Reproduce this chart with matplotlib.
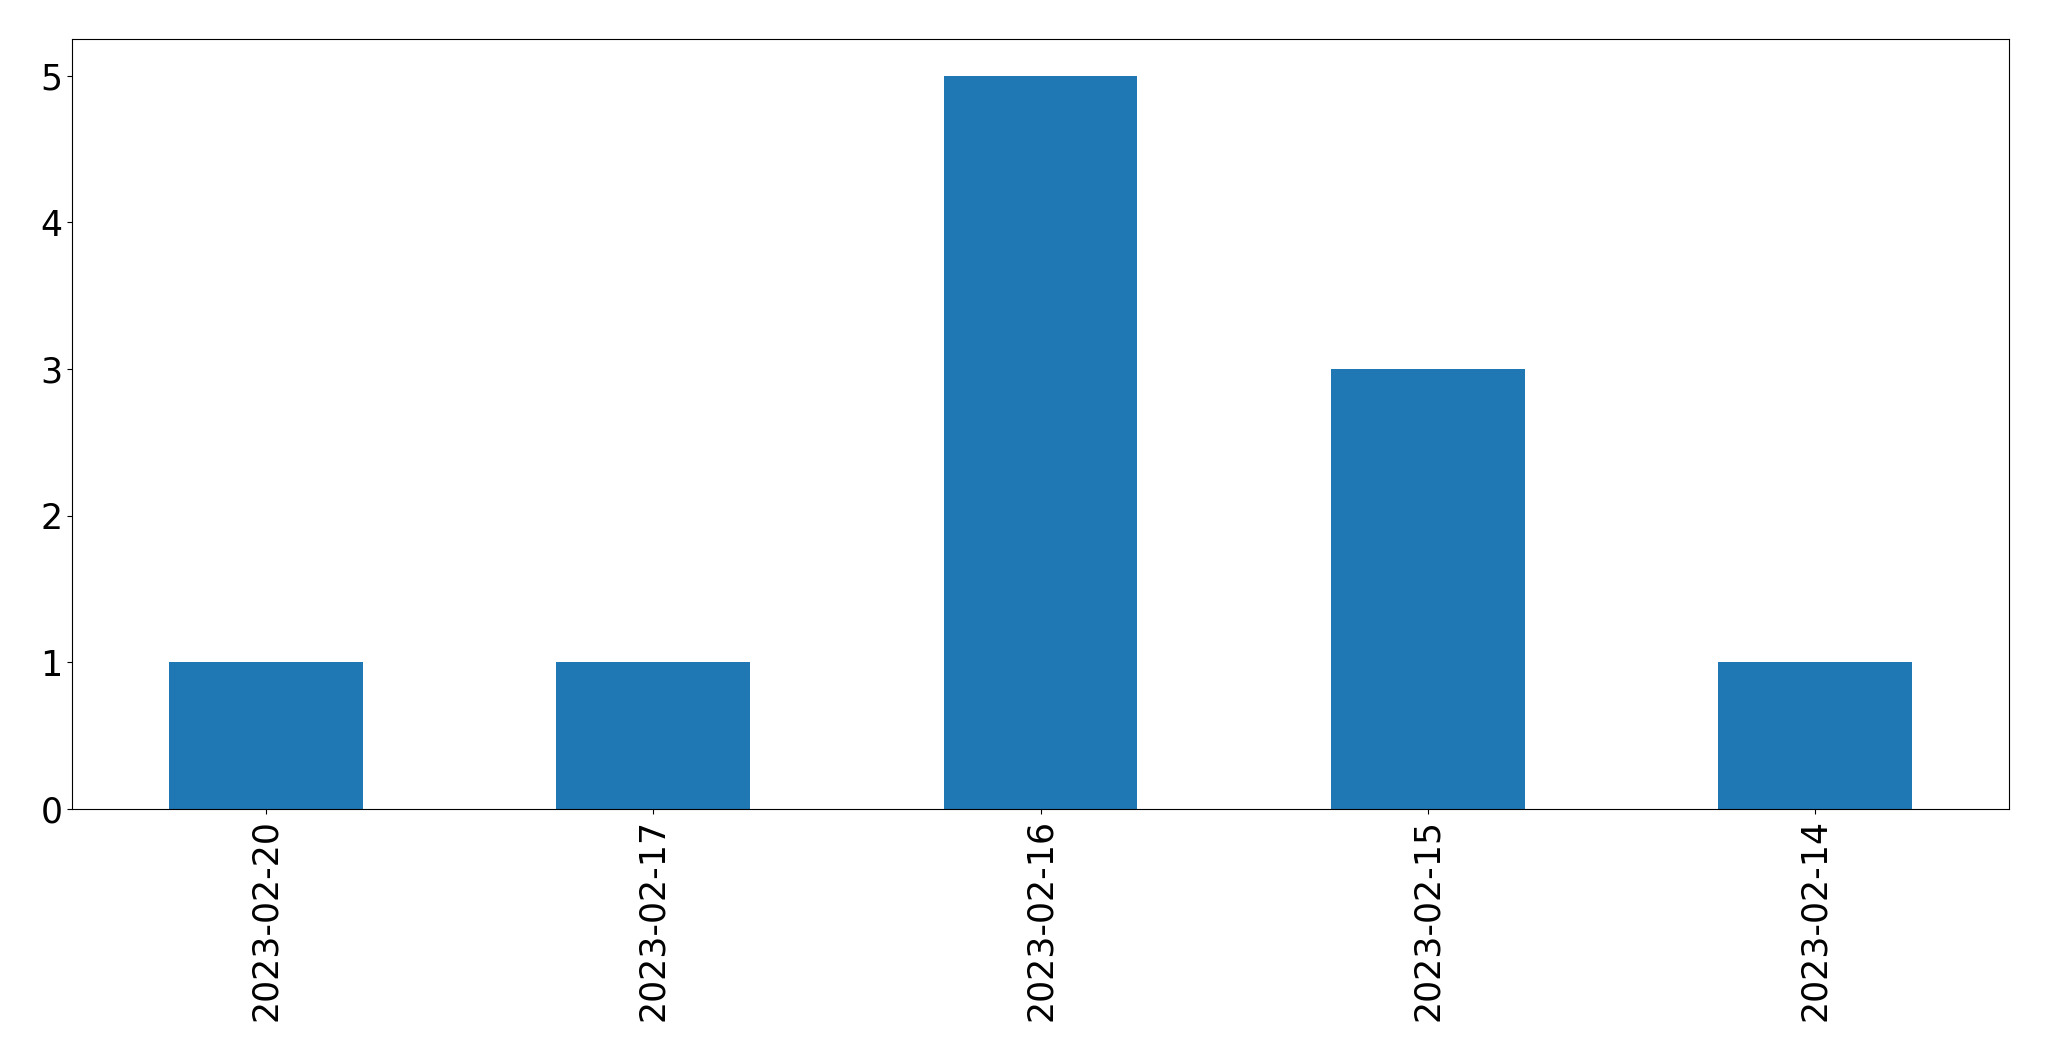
import matplotlib
matplotlib.use("Agg")
import matplotlib.pyplot as plt

categories = ["2023-02-20", "2023-02-17", "2023-02-16", "2023-02-15", "2023-02-14"]
counts = [1, 1, 5, 3, 1]

fig = plt.figure(figsize=(20.49, 10.61), dpi=100)
ax = fig.add_axes([72/2049, 1 - 809/1061, (2009-72)/2049, (809-39)/1061])
x = list(range(len(categories)))
ax.bar(x, counts, width=0.5, color="#1f77b4")
ax.set_xlim(-0.5, len(categories) - 0.5)
ax.set_ylim(0, 5.25)
ax.set_xticks(x)
ax.set_xticklabels(categories, rotation=90)
ax.tick_params(axis="both", labelsize=25)
fig.savefig("out.png", dpi=100)
